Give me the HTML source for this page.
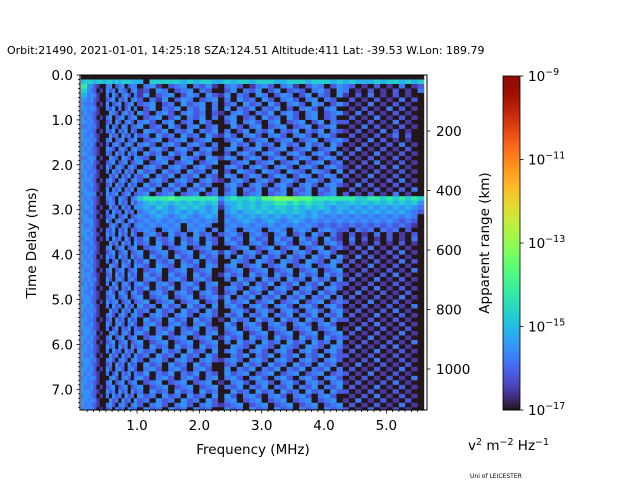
<!DOCTYPE html>
<html><head><meta charset="utf-8"><style>
body{margin:0;background:#fff;font-family:"Liberation Sans","DejaVu Sans",sans-serif;}
svg text{font-family:"DejaVu Sans","Liberation Sans",sans-serif;}
</style></head><body>
<svg id="chart" width="640" height="480" viewBox="0 0 640 480" xmlns="http://www.w3.org/2000/svg">
<defs><clipPath id="pclip"><rect x="80" y="75" width="347" height="335"/></clipPath></defs>
<text x="7" y="54" font-size="11">Orbit:21490, 2021-01-01, 14:25:18 SZA:124.51 Altitude:411 Lat: -39.53 W.Lon: 189.79</text>
<g id="cells" clip-path="url(#pclip)"></g>
<rect x="80" y="75" width="347" height="335" fill="none" stroke="#000" stroke-width="1"/>
<g id="axes"></g>
<text x="253" y="454" font-size="13.5" text-anchor="middle">Frequency (MHz)</text>
<text transform="translate(36,243) rotate(-90)" font-size="13.5" text-anchor="middle">Time Delay (ms)</text>
<text transform="translate(489,243) rotate(-90)" font-size="13.5" text-anchor="middle">Apparent range (km)</text>
<g id="cbar"></g>
<text x="468" y="450" font-size="13.5">v<tspan dy="-5" font-size="9.5">2</tspan><tspan dy="5"> m</tspan><tspan dy="-5" font-size="9.5">−2</tspan><tspan dy="5"> Hz</tspan><tspan dy="-5" font-size="9.5">−1</tspan></text>
<text x="470" y="478" font-size="6">Uni of LEICESTER</text>
</svg>
<script>
const freqEdges = [0.1,0.15,0.2,0.25,0.3,0.35,0.4,0.45,0.5,0.55,0.6,0.65,0.7,0.75,0.8,0.85,0.9,0.95,1.0,1.1,1.2,1.3,1.4,1.5,1.6,1.7,1.8,1.9,2.0,2.1,2.2,2.3,2.4,2.5,2.6,2.7,2.8,2.9,3.0,3.1,3.2,3.3,3.4,3.5,3.6,3.7,3.8,3.9,4.0,4.1,4.2,4.3,4.4,4.5,4.6,4.7,4.8,4.9,5.0,5.1,5.2,5.3,5.4,5.5,5.6];
const rowStep = 0.1;
const levelValues = [-17.0,-16.55,-16.2,-15.85,-15.55,-15.15,-14.75,-14.25,-13.7,-13.2];
const levels = [
"0000000000000000000000000000000000000000000000000000000000000000",
"5666566566565666555066666565665565665666556665666565655565665656",
"7744210034023402430341023403241034201342034102430243201020103012",
"6643201042304320341204302340320024032402402320342043010201020103",
"5534310030420342031402340243042140320430243024032041020301020100",
"4434210023403240342031402430234030423042034203403200201020103020",
"4333201040234023402340230423403023042304203420430242010301020100",
"4434310032403024030240324032403040324032402034203400102010302010",
"3433210004320342304203420342302103420324034203402341030201020100",
"4343201034023402340234024032403034023042304203402300201030102010",
"4434210023042034203420340230420024034203402340240322010201030100",
"3343310040320430234023042034023004203402340234023400103020102010",
"4433201032403240320432403240324030240324032403240321020103020100",
"4334210004230423042304230423042142034203420342034200201020130200",
"4443310034023402340234023402340023402340234023402342010302010100",
"3434201020342034203420342034203004230423042304230420102010203010",
"4343210043203420342034203420342034023402340234023401030102010200",
"4433210032042304230423042304230020342034203420342030201030102010",
"3344301004320432043204320432043143024302430243024302010201020100",
"4434210023402340234023402340234002340234023402340230102030102010",
"4343201042034203420342034203420034203420342034203421020102030100",
"4433310030423042304230423042304020432043204320432040201020102010",
"3434210003240324032403240324032043024302430243024302010301020100",
"4443201034203420342034203420342103420342034203420340102010203010",
"4334210023042304230423042304230034203420342034203421030201020100",
"4433210040324032403240324032403024032403240324032400201020102030",
"3444301042340234023402340234023034023402340234023402010201030100",
"4343210034204320346777787777777467667688999888777777766776767676",
"4434210024304230424565656565656255656566776767665655656565656564",
"3443201004230423044546545656545145656565665656565455454545454543",
"4334210030423042303454545454545045455656565654545454545454545432",
"4433201023402340234345434543454034545454545454543434343434343430",
"3444210042034203423434343434343043454345434543434343434343432320",
"4334210003420342034343434043430034343434343434323232323232323210",
"4443201032403240323430343034303043034303430343034322032303230200",
"4434210042304230420342042304230234203420340230420310201030201020",
"3443201030423042032403240324032042304230423042304210302010201030",
"4334210004230423042304230423042034203420342034203420201020102010",
"4433310034023402340234023402340002340234023402340231020301020100",
"3434210023402340234023402340234142034203420342034200102010203010",
"4343201042304230423042304230423030423042304230423041030201020100",
"4434210030240324032403240324032004320432043204320430201020103020",
"3443210004320432043204320432043034023402340234023402010301020100",
"4334201034023402340234023402340023402340234023402340102010201030",
"4443210023042304230423042304230142304230423042304231020102030100",
"4343310042034203420342034203420030423042304230423040201030102010",
"3434210030420342034203420342034003240324032403240322010201020100",
"4433201003240324032403240324032034203420342034203420102030102010",
"4334210034203420342034203420342023042304230423042301030102010200",
"4443210023402340234023402340234140324032403240324030201020103010",
"3443201042340234023402340234023042340234023402340232010301020100",
"4434210030423042304230423042304034203420342034203420102010201030",
"4343310004230423042304230423042003420342034203420341020102030100",
"3434210034203420342034203420342032403240324032403240201030102010",
"4433201023042304230423042304230104230423042304230422010201020100",
"4334210042034203420342034203420042034203420342034200102030102010",
"4443210030240324032403240324032034023402340234023401030102010200",
"3443301003420342034203420342034023402340234023402340201020103010",
"4434210034023402340234023402340142304230423042304232010301020100",
"4343201023402340234023402340234030423042304230423040102010201030",
"3434210042304230423042304230423004320432043204320431020102030100",
"4433210030423042304230423042304034203420342034203420201030102010",
"4334201004230423042304230423042003240324032403240322010201020100",
"4443310034203420342034203420342134203420342034203420102030102010",
"3443210023042304230423042304230023042304230423042301030102010200",
"4434201042034203420342034203420040324032403240324030201020103010",
"4343210030240324032403240324032042340234023402340232010301020100",
"3434310003420342034203420342034034203420342034203420102010201030",
"4433210034023402340234023402340103420342034203420341020102030100",
"4334201023402340234023402340234032403240324032403240201030102010",
"4443210042304230423042304230423004230423042304230422010201020100",
"3443201030423042304230423042304042034203420342034200102030102010",
"4434310004230423042304230423042034023402340234023401030102010200",
"4343210034203420342034203420342123402340234023402340201020103010",
"3434201023042304230423042304230042304230423042304232010301020100"
];
const xTicks = [1.0,2.0,3.0,4.0,5.0];
const yTicks = [0,1,2,3,4,5,6,7];
const rangeTicks = [200,400,600,800,1000];
const cbTicks = [-9,-11,-13,-15,-17];

const NS="http://www.w3.org/2000/svg";
const X0=137, XS=62.35;
function xs(f){return X0+(f-1)*XS;}
function ys(t){return 75+t*44.9;}
function ysR(km){return 71.5+km*0.2975;}
function cy(lg){return 410-(lg+17)/8*334;}
function turbo(t){
  t=Math.max(0,Math.min(1,t));
  const r=34.61+t*(1172.33-t*(10793.56-t*(33300.12-t*(38394.49-t*14825.05))));
  const g=23.31+t*(557.33+t*(1225.33-t*(3574.96-t*(1073.77+t*707.56))));
  const b=27.2+t*(3211.1-t*(15327.97-t*(27814-t*(22569.18-t*6838.66))));
  const c=v=>Math.max(0,Math.min(255,Math.round(v)));
  return `rgb(${c(r)},${c(g)},${c(b)})`;
}
function mk(tag,attrs,parent){const e=document.createElementNS(NS,tag);for(const k in attrs)e.setAttribute(k,attrs[k]);parent.appendChild(e);return e;}

const cells=document.getElementById('cells');
levels.forEach((row,ri)=>{
  for(let ci=0;ci<row.length&&ci<freqEdges.length-1;ci++){
    const lg=levelValues[+row[ci]];
    const x1=xs(freqEdges[ci]),x2=xs(freqEdges[ci+1]);
    const y1=ys(ri*rowStep),y2=ys((ri+1)*rowStep);
    const r=mk('rect',{x:x1.toFixed(2),y:y1.toFixed(2),width:(x2-x1+0.4).toFixed(2),height:(y2-y1+0.4).toFixed(2),fill:turbo((lg+17)/8)},cells);
    
    
  }
});

const ax=document.getElementById('axes');
for(let i=2;i<=55;i++){const x=xs(i/10);if(x<80||x>427)continue;
  mk('line',{x1:x,y1:410,x2:x,y2:(i%10===0?413.5:412),stroke:'#000','stroke-width':0.8},ax);}
xTicks.forEach(f=>{
  const t=mk('text',{x:xs(f),y:430,'font-size':13.5,'text-anchor':'middle'},ax);t.textContent=f.toFixed(1);
  
  });
for(let i=0;i<=74;i++){const y=ys(i/10);if(y>410)continue;
  mk('line',{x1:80,y1:y,x2:(i%10===0?76.5:78),y2:y,stroke:'#000','stroke-width':0.8},ax);}
yTicks.forEach(v=>{
  const t=mk('text',{x:73,y:ys(v)+5,'font-size':13.5,'text-anchor':'end'},ax);t.textContent=v.toFixed(1);
  
  });
rangeTicks.forEach(v=>{const y=ysR(v);
  mk('line',{x1:427,y1:y,x2:430.5,y2:y,stroke:'#000','stroke-width':0.8},ax);
  const t=mk('text',{x:436,y:y+5,'font-size':13.5},ax);t.textContent=v;
  
  });

const cb=document.getElementById('cbar');
const N=120;
for(let i=0;i<N;i++){const y2=cy(-17+8*i/N),y1=cy(-17+8*(i+1)/N);
  mk('rect',{x:503,y:y1,width:17,height:y2-y1+0.5,fill:turbo(i/N)},cb);}
mk('rect',{x:503,y:76,width:17,height:334,fill:'none',stroke:'#000','stroke-width':0.8},cb);
cbTicks.forEach(v=>{const y=cy(v);
  mk('line',{x1:520,y1:y,x2:523.5,y2:y,stroke:'#000','stroke-width':0.8},cb);
  const t=mk('text',{x:528,y:y+5,'font-size':13.5},cb);
  t.innerHTML='10<tspan dy="-6" font-size="9.5">−'+(-v)+'</tspan>';
  
  });
</script>
</body></html>
